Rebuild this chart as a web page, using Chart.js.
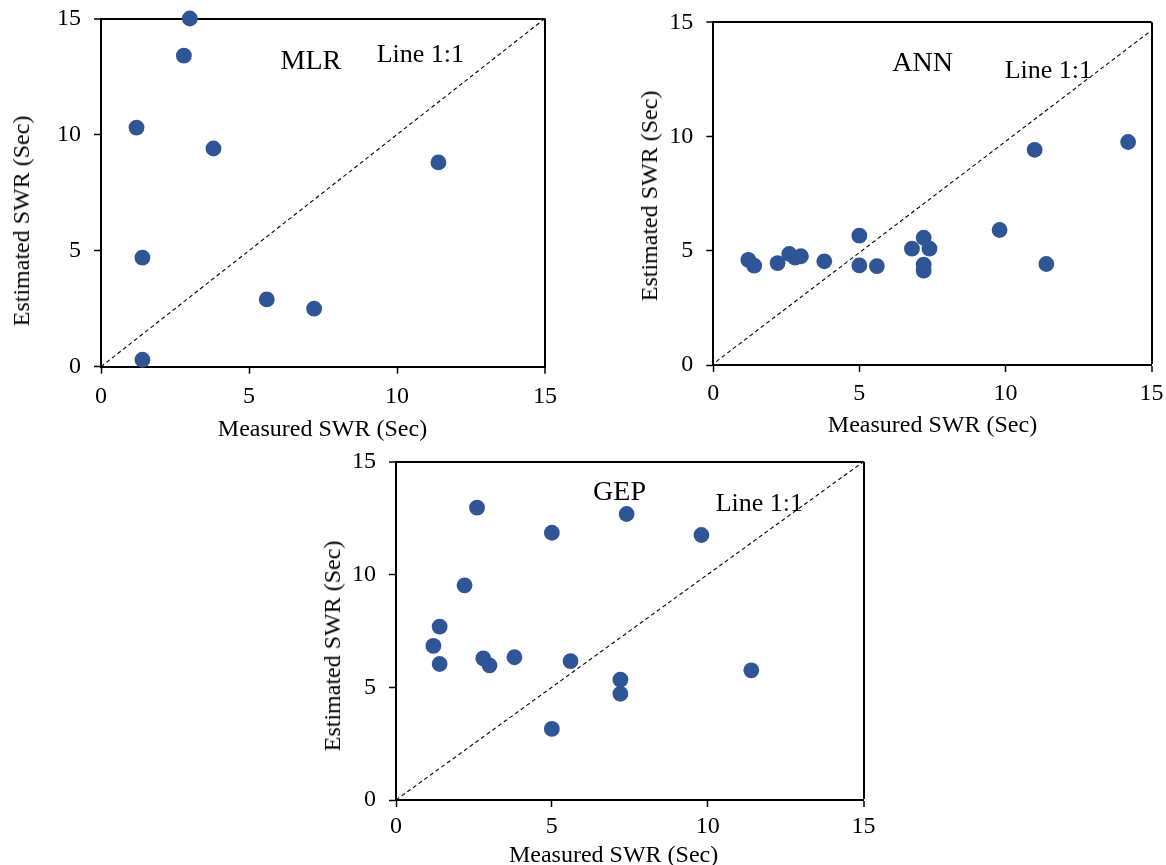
<!DOCTYPE html>
<html>
<head>
<meta charset="utf-8">
<script src="https://cdn.jsdelivr.net/npm/chart.js@4/dist/chart.umd.min.js"></script>
<style>
html,body{margin:0;padding:0;background:#fff;width:1166px;height:865px;overflow:hidden;position:relative;}
canvas{position:absolute;}
.t{position:absolute;white-space:nowrap;line-height:1;color:#000;font-family:"Liberation Serif","Times New Roman",serif;}
.xt{font-size:24px;transform:translateX(-50%);}
.yt{font-size:24px;transform:translate(-50%,-50%) rotate(-90deg);}
.lab{font-size:28px;}
.one{font-size:26px;}
</style>
</head>
<body>
<canvas id="c1"></canvas>
<canvas id="c2"></canvas>
<canvas id="c3"></canvas>

<div class="t xt" style="left:322.5px;top:415.9px;">Measured SWR (Sec)</div>
<div class="t xt" style="left:932.5px;top:412.4px;">Measured SWR (Sec)</div>
<div class="t xt" style="left:613.6px;top:841.9px;">Measured SWR (Sec)</div>
<div class="t yt" style="left:21.4px;top:220.8px;">Estimated SWR (Sec)</div>
<div class="t yt" style="left:648.6px;top:195.8px;">Estimated SWR (Sec)</div>
<div class="t yt" style="left:332.3px;top:645.6px;">Estimated SWR (Sec)</div>

<div class="t lab" style="left:280.5px;top:45.9px;">MLR</div>
<div class="t one" style="left:376.7px;top:40.5px;">Line 1:1</div>
<div class="t lab" style="left:892.3px;top:47.5px;">ANN</div>
<div class="t one" style="left:1004.7px;top:56.5px;">Line 1:1</div>
<div class="t lab" style="left:593.1px;top:476.5px;">GEP</div>
<div class="t one" style="left:715.7px;top:489.9px;">Line 1:1</div>

<script>
// ---- data ----
const tickValues = [0, 5, 10, 15];
const axisMin = 0;
const axisMax = 15;

const mlrMeasured  = [1.2, 1.4, 1.4, 2.8, 3.0, 3.8, 5.6, 7.2, 11.4];
const mlrEstimated = [10.3, 4.7, 0.3, 13.4, 15.0, 9.4, 2.9, 2.5, 8.8];

const annMeasured  = [1.2, 1.4, 2.2, 2.6, 2.8, 3.0, 3.8, 5.0, 5.0, 5.6, 6.8, 7.2, 7.4, 7.2, 7.2, 9.8, 11.0, 11.4, 14.2];
const annEstimated = [4.60, 4.35, 4.46, 4.86, 4.70, 4.76, 4.54, 5.66, 4.36, 4.33, 5.09, 5.57, 5.09, 4.39, 4.13, 5.91, 9.42, 4.42, 9.76];

const gepMeasured  = [1.2, 1.4, 1.4, 2.2, 2.6, 2.8, 3.0, 3.8, 5.0, 5.0, 5.6, 7.2, 7.2, 7.4, 9.8, 11.4];
const gepEstimated = [6.83, 7.69, 6.03, 9.52, 12.96, 6.28, 5.97, 6.33, 11.85, 3.15, 6.16, 5.34, 4.71, 12.68, 11.75, 5.75];

const mlrLineX = [0, 15];
const mlrLineY = [0, 15];
const annLineX = [0.1, 14.9];
const annLineY = [0.15, 14.55];
const gepLineX = [0, 15];
const gepLineY = [0, 15];

// ---- styling / layout ----
const FONT = "'Liberation Serif', 'Times New Roman', serif";
const MARKER = '#2F5597';
Chart.defaults.font.family = FONT;

function pts(xs, ys) { return xs.map((x, i) => ({ x: x, y: ys[i] })); }

function makeChart(id, canvasBox, plot, xs, ys, lx, ly, xPad, yPad) {
  const cv = document.getElementById(id);
  cv.width = canvasBox.w; cv.height = canvasBox.h;
  cv.style.left = canvasBox.x + 'px'; cv.style.top = canvasBox.y + 'px';
  cv.style.width = canvasBox.w + 'px'; cv.style.height = canvasBox.h + 'px';

  const yW = plot.L - canvasBox.x;
  const xH = canvasBox.y + canvasBox.h - plot.B;
  const padTop = plot.T - canvasBox.y;
  const padRight = canvasBox.x + canvasBox.w - plot.R;

  const gridColor = c => (c.tick && c.tick.value === axisMax) ? '#000' : 'rgba(0,0,0,0)';
  const gridWidth = c => (c.tick && c.tick.value === axisMax) ? 2 : 1;

  const common = {
    type: 'linear', min: axisMin, max: axisMax,
    afterBuildTicks: s => { s.ticks = tickValues.map(v => ({ value: v })); },
    grid: { display: true, drawOnChartArea: true, drawTicks: true, tickLength: 7,
            tickColor: '#000', tickWidth: 1.5, color: gridColor, lineWidth: gridWidth },
    border: { display: true, color: '#000', width: 2 }
  };

  return new Chart(cv, {
    type: 'scatter',
    data: {
      datasets: [
        { type: 'line', data: pts(lx, ly), borderColor: '#000', borderWidth: 1.1,
          borderDash: [4, 3], pointRadius: 0, fill: false, order: 2, clip: false },
        { type: 'scatter', data: pts(xs, ys), backgroundColor: MARKER, borderColor: MARKER,
          borderWidth: 0, pointRadius: 7.9, pointHoverRadius: 7.9, order: 1, clip: false }
      ]
    },
    options: {
      responsive: false, animation: false, devicePixelRatio: 1,
      layout: { padding: { left: 0, top: padTop, right: padRight, bottom: 0 } },
      plugins: { legend: { display: false }, tooltip: { enabled: false } },
      events: [],
      scales: {
        x: Object.assign({}, common, {
          position: 'bottom',
          ticks: { color: '#000', font: { family: FONT, size: 24 }, padding: xPad, maxRotation: 0, autoSkip: false },
          afterFit: s => { s.height = xH; }
        }),
        y: Object.assign({}, common, {
          position: 'left',
          ticks: { color: '#000', font: { family: FONT, size: 24 }, padding: yPad, autoSkip: false },
          afterFit: s => { s.width = yW; }
        })
      }
    }
  });
}

const charts = [
  makeChart('c1', { x: 21, y: -14, w: 560, h: 424 }, { L: 101, T: 18.5, R: 545, B: 366.7 },
    mlrMeasured, mlrEstimated, mlrLineX, mlrLineY, 8.5, 13),
  makeChart('c2', { x: 630, y: -10, w: 546, h: 420 }, { L: 713.3, T: 22.3, R: 1151.5, B: 365 },
    annMeasured, annEstimated, annLineX, annLineY, 7, 13),
  makeChart('c3', { x: 310, y: 429, w: 590, h: 436 }, { L: 396, T: 461.7, R: 863.5, B: 800 },
    gepMeasured, gepEstimated, gepLineX, gepLineY, 5, 13)
];

if (document.fonts && document.fonts.load) {
  document.fonts.load("24px 'Liberation Serif'").then(() => charts.forEach(c => c.update()));
}
</script>
</body>
</html>
